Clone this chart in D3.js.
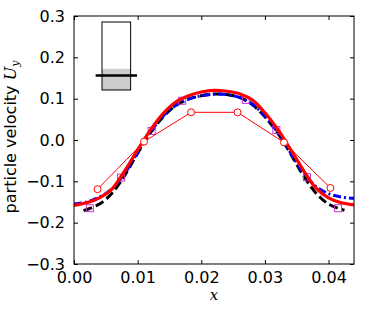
<!DOCTYPE html>
<html><head><meta charset="utf-8">
<script src="https://cdn.jsdelivr.net/npm/d3@7"></script>
<style>body{margin:0;background:#fff}svg{display:block}</style>
</head><body>
<script>
// ---- data ----
const xTicks = [0.00, 0.01, 0.02, 0.03, 0.04];
const yTicks = [-0.3, -0.2, -0.1, 0.0, 0.1, 0.2, 0.3];

const redX = [0,0.002,0.004,0.006,0.008,0.010,0.012,0.014,0.016,0.018,0.020,0.022,0.024,0.026,0.028,0.030,0.032,0.034,0.036,0.038,0.040,0.042,0.044];
const redY = [-0.158,-0.152,-0.140,-0.118,-0.074,-0.024,0.024,0.064,0.092,0.107,0.116,0.120,0.118,0.112,0.097,0.066,0.026,-0.022,-0.072,-0.116,-0.140,-0.152,-0.157];

const blueX = [0,0.002,0.004,0.006,0.008,0.010,0.012,0.014,0.016,0.018,0.020,0.022,0.024,0.026,0.028,0.030,0.032,0.034,0.036,0.038,0.040,0.042,0.044];
const blueY = [-0.155,-0.150,-0.138,-0.118,-0.080,-0.030,0.019,0.058,0.084,0.099,0.107,0.111,0.110,0.103,0.087,0.058,0.019,-0.030,-0.078,-0.112,-0.130,-0.138,-0.141];

const blackX = [0.0015,0.004,0.006,0.008,0.010,0.012,0.014,0.016,0.018,0.020,0.022,0.024,0.026,0.028,0.030,0.032,0.034,0.036,0.038,0.040,0.0425];
const blackY = [-0.171,-0.155,-0.128,-0.085,-0.032,0.017,0.056,0.083,0.099,0.107,0.111,0.110,0.103,0.086,0.056,0.017,-0.032,-0.085,-0.128,-0.155,-0.170];

const sqX = [0.0025,0.0074,0.0122,0.0170,0.0270,0.0318,0.0366,0.0415];
const sqY = [-0.165,-0.091,0.022,0.095,0.097,0.024,-0.090,-0.165];

const circX = [0.0037,0.0110,0.0184,0.0257,0.0330,0.0403];
const circY = [-0.119,-0.004,0.067,0.067,-0.006,-0.116];

// inset (data coordinates)
const insetBoxX = [0.0044, 0.0089];
const insetBoxY = [0.121, 0.2855];
const insetFillTop = 0.172;
const insetLineY = 0.156;
const insetLineX = [0.0034, 0.0099];

// ---- layout ----
const W = 373, H = 311;
const L = 74, R = 354, T = 16, B = 264;
const svg = d3.select("body").append("svg").attr("width", W).attr("height", H);
const x = d3.scaleLinear().domain([0, 0.044]).range([L, R]);
const y = d3.scaleLinear().domain([-0.3, 0.3]).range([B, T]);
const font = "'DejaVu Sans', sans-serif";

svg.append("clipPath").attr("id","clip").append("rect")
  .attr("x", L).attr("y", T).attr("width", R-L).attr("height", B-T);
const plot = svg.append("g").attr("clip-path","url(#clip)");

// inset
const bw = x(insetBoxX[1]) - x(insetBoxX[0]);
plot.append("rect").attr("x", x(insetBoxX[0])).attr("y", y(insetFillTop))
  .attr("width", bw).attr("height", y(insetBoxY[0]) - y(insetFillTop))
  .attr("fill", "#cccccc");
plot.append("rect").attr("x", x(insetBoxX[0])).attr("y", y(insetBoxY[1]))
  .attr("width", bw).attr("height", y(insetBoxY[0]) - y(insetBoxY[1]))
  .attr("fill", "none").attr("stroke", "#000").attr("stroke-width", 1);
plot.append("line").attr("x1", x(insetLineX[0])).attr("x2", x(insetLineX[1]))
  .attr("y1", y(insetLineY)).attr("y2", y(insetLineY))
  .attr("stroke", "#000").attr("stroke-width", 2.5);

const line = d3.line().x(d => x(d[0])).y(d => y(d[1])).curve(d3.curveCatmullRom);
const lineLin = d3.line().x(d => x(d[0])).y(d => y(d[1]));
const zip = (a, b) => a.map((v, i) => [v, b[i]]);

// black dashed
plot.append("path").attr("d", line(zip(blackX, blackY))).attr("fill", "none")
  .attr("stroke", "#000").attr("stroke-width", 3).attr("stroke-dasharray", "9,4");
// blue dash-dot
plot.append("path").attr("d", line(zip(blueX, blueY))).attr("fill", "none")
  .attr("stroke", "#0000ff").attr("stroke-width", 3).attr("stroke-dasharray", "8,3,2,3");
// magenta squares
plot.selectAll(".sq").data(zip(sqX, sqY)).enter().append("rect")
  .attr("x", d => x(d[0]) - 3.5).attr("y", d => y(d[1]) - 3.5)
  .attr("width", 7).attr("height", 7).attr("fill", "none")
  .attr("stroke", "#cc33cc").attr("stroke-width", 1);
// red thick
plot.append("path").attr("d", line(zip(redX, redY))).attr("fill", "none")
  .attr("stroke", "#ff0000").attr("stroke-width", 3.2);
// red circles
plot.append("path").attr("d", lineLin(zip(circX, circY))).attr("fill", "none")
  .attr("stroke", "#ff0000").attr("stroke-width", 1);
plot.selectAll(".ci").data(zip(circX, circY)).enter().append("circle")
  .attr("cx", d => x(d[0])).attr("cy", d => y(d[1])).attr("r", 3.5)
  .attr("fill", "#fff").attr("stroke", "#ff0000").attr("stroke-width", 1);

// axes frame
svg.append("rect").attr("x", L).attr("y", T).attr("width", R-L).attr("height", B-T)
  .attr("fill", "none").attr("stroke", "#000").attr("stroke-width", 1);

const fmtY = d => (d < 0 ? "\u2212" : "") + Math.abs(d).toFixed(1);
const fmtX = d => d.toFixed(2);

const axB = d3.axisBottom(x).tickValues(xTicks).tickSize(-4).tickPadding(8).tickFormat(fmtX);
const axT = d3.axisTop(x).tickValues(xTicks).tickSize(-4).tickFormat("");
const axL = d3.axisLeft(y).tickValues(yTicks).tickSize(-4).tickPadding(9).tickFormat(fmtY);
const axR = d3.axisRight(y).tickValues(yTicks).tickSize(-4).tickFormat("");

function style(g) {
  g.select(".domain").remove();
  g.selectAll("line").attr("stroke", "#000");
  g.selectAll("text").attr("fill", "#000").style("font-family", font).style("font-size", "16px");
}
svg.append("g").attr("transform", `translate(0,${B})`).call(axB).call(style);
svg.append("g").attr("transform", `translate(0,${T})`).call(axT).call(style);
svg.append("g").attr("transform", `translate(${L},0)`).call(axL).call(style);
svg.append("g").attr("transform", `translate(${R},0)`).call(axR).call(style);

// labels
svg.append("text").attr("x", x(0.022)).attr("y", 300).attr("text-anchor", "middle")
  .style("font-family", "'DejaVu Serif', serif").style("font-style", "italic").style("font-size", "15px")
  .text("x");
const yl = svg.append("text").attr("transform", `translate(16,137) rotate(-90)`)
  .attr("text-anchor", "middle").style("font-family", font).style("font-size", "16px");
yl.append("tspan").text("particle velocity ");
yl.append("tspan").style("font-family", "'DejaVu Serif', serif").style("font-style", "italic").text("U");
yl.append("tspan").attr("dy", 3).style("font-family", "'DejaVu Serif', serif").style("font-style", "italic").style("font-size", "11px").text("y");
</script>
</body></html>
